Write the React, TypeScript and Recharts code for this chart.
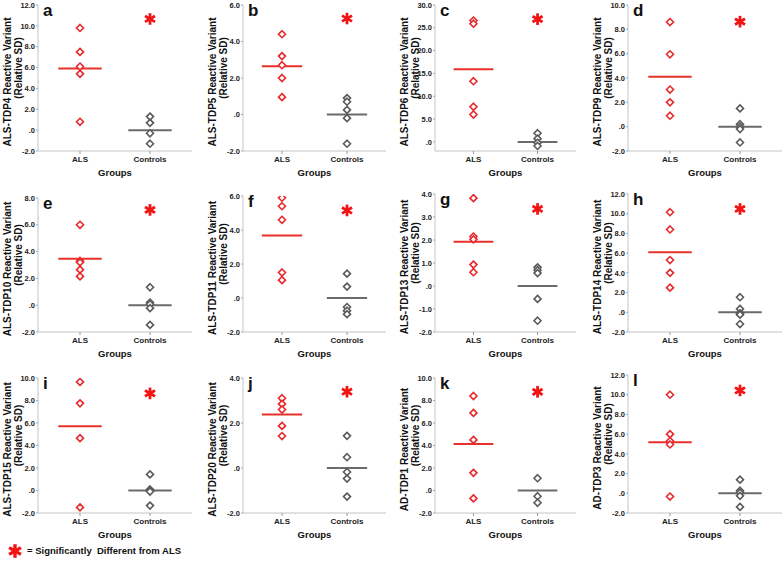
import React from "react";
import { ScatterChart, Scatter, XAxis, YAxis, ReferenceLine } from "recharts";

const GROUPS = ["ALS", "Controls"];
const LETTERS = ["a", "b", "c", "d", "e", "f", "g", "h", "i", "j", "k", "l"];
const VARIANTS = [
  "ALS-TDP4", "ALS-TDP5", "ALS-TDP6", "ALS-TDP9",
  "ALS-TDP10", "ALS-TDP11", "ALS-TDP13", "ALS-TDP14",
  "ALS-TDP15", "ALS-TDP20", "AD-TDP1", "AD-TDP3",
];

// values read per panel (relative SD)
const ALS_VALUES = [
  [9.8, 7.5, 6.1, 5.4, 0.8],
  [4.4, 3.2, 2.7, 2.0, 0.95],
  [26.6, 25.9, 13.3, 7.7, 6.0],
  [8.6, 5.95, 3.05, 2.0, 0.9],
  [6.0, 3.3, 3.2, 2.65, 2.15],
  [5.9, 5.4, 4.6, 1.5, 1.05],
  [3.82, 2.15, 2.03, 0.93, 0.6],
  [10.15, 8.4, 5.3, 4.0, 2.5],
  [9.65, 7.75, 4.65, -1.5],
  [3.1, 2.85, 2.6, 1.87, 1.42],
  [8.4, 6.9, 4.5, 1.57, -0.7],
  [10.0, 6.0, 5.3, 4.95, -0.33],
];
const CONTROL_VALUES = [
  [1.3, 0.7, -0.3, -1.3],
  [0.9, 0.7, 0.25, -0.2, -1.6],
  [1.9, 0.7, -0.2, -0.9],
  [1.5, 0.2, 0.0, -0.2, -1.3],
  [1.34, 0.2, 0.07, -0.22, -1.47],
  [1.43, 0.67, -0.53, -0.75, -0.95],
  [0.81, 0.69, 0.56, -0.56, -1.51],
  [1.53, 0.34, -0.1, -0.24, -1.19],
  [1.43, 0.09, 0.0, -0.09, -1.34],
  [1.43, 0.48, -0.18, -0.47, -1.27],
  [1.09, -0.51, -1.09],
  [1.38, 0.26, 0.07, -0.26, -1.38],
];
const ALS_MEANS = [5.9, 2.65, 15.9, 4.1, 3.47, 3.68, 1.92, 6.1, 5.71, 2.38, 4.14, 5.17];
const CONTROL_MEANS = [0, 0, 0, 0, 0, 0, 0, 0, 0, 0, 0, 0];
const STAR_Y = [10.66, 5.26, 26.9, 8.63, 7.11, 5.15, 3.35, 10.48, 8.63, 3.39, 8.77, 10.43];

const Y_TICKS = [
  [-2, 0, 2, 4, 6, 8, 10, 12],
  [-2, 0, 2, 4, 6],
  [0, 5, 10, 15, 20, 25, 30],
  [-2, 0, 2, 4, 6, 8, 10],
  [-2, 0, 2, 4, 6, 8],
  [-2, 0, 2, 4, 6],
  [-2, -1, 0, 1, 2, 3, 4],
  [-2, 0, 2, 4, 6, 8, 10, 12],
  [-2, 0, 2, 4, 6, 8, 10],
  [-2, 0, 2, 4],
  [-2, 0, 2, 4, 6, 8, 10],
  [-2, 0, 2, 4, 6, 8, 10, 12],
];
const Y_MAX = [12, 6, 30, 10, 8, 6, 4, 12, 10, 4, 10, 12];

// layout
const COL_AXIS_X = [38, 243, 435, 628];
const COL_PLOT_W = [154, 143, 141, 154];
const PLOT_TOP = [5, 5, 5, 5, 198, 196, 194, 194, 378, 378, 378, 375];
const ROW_BOTTOM = [151, 332, 513];
const Y_AXIS_W = 36;
const X_AXIS_H = 30;
const TOP_PAD = 5;

const RED = "#e8282a";
const STAR_RED = "#f21414";
const GRAY = "#5a5a5a";
const FONT = "'Liberation Sans', Arial, sans-serif";

const fmt = (v: number) => (v === 0 ? ".0" : v.toFixed(1));

const diamond = (color: string) => (props: any) => {
  const { cx, cy } = props;
  const r = 3.5;
  return (
    <path
      d={`M${cx},${cy - r}L${cx + r},${cy}L${cx},${cy + r}L${cx - r},${cy}Z`}
      fill="#fff"
      stroke={color}
      strokeWidth={1.6}
    />
  );
};

function StarMark({ cx, cy, r, w }: { cx: number; cy: number; r: number; w: number }) {
  const dx = r * Math.cos(Math.PI / 6);
  const dy = r * Math.sin(Math.PI / 6);
  return (
    <g stroke={STAR_RED} strokeWidth={w}>
      <line x1={cx} y1={cy - r} x2={cx} y2={cy + r} />
      <line x1={cx - dx} y1={cy - dy} x2={cx + dx} y2={cy + dy} />
      <line x1={cx - dx} y1={cy + dy} x2={cx + dx} y2={cy - dy} />
    </g>
  );
}

const starShape = (props: any) => <StarMark cx={props.cx} cy={props.cy} r={5.8} w={2.8} />;

function Panel({ index }: { index: number }) {
  const row = Math.floor(index / 4);
  const col = index % 4;
  const axisX = COL_AXIS_X[col];
  const plotW = COL_PLOT_W[col];
  const top = PLOT_TOP[index];
  const plotH = ROW_BOTTOM[row] - top;
  const width = Y_AXIS_W + plotW + 4;
  const height = TOP_PAD + plotH + X_AXIS_H;

  const alsData = ALS_VALUES[index].map((y) => ({ x: 1, y }));
  const ctrlData = CONTROL_VALUES[index].map((y) => ({ x: 2, y }));
  const starData = [{ x: 2, y: STAR_Y[index] }];
  const midY = TOP_PAD + plotH / 2;

  const yLabel = () => (
    <g fontFamily={FONT} fontWeight="bold" fill="#111">
      <text
        x={Y_AXIS_W - 31}
        y={midY + 4}
        fontSize={10}
        textAnchor="middle"
        dominantBaseline="central"
        transform={`rotate(-90, ${Y_AXIS_W - 31}, ${midY + 4})`}
      >
        {VARIANTS[index]} Reactive Variant
      </text>
      <text
        x={Y_AXIS_W - 20}
        y={midY - 10}
        fontSize={10}
        textAnchor="middle"
        dominantBaseline="central"
        transform={`rotate(-90, ${Y_AXIS_W - 20}, ${midY - 10})`}
      >
        (Relative SD)
      </text>
      <text x={Y_AXIS_W + 5} y={TOP_PAD + 11} fontSize={17}>
        {LETTERS[index]}
      </text>
    </g>
  );

  const xLabel = () => (
    <text
      x={Y_AXIS_W + plotW / 2}
      y={TOP_PAD + plotH + 25}
      textAnchor="middle"
      fontFamily={FONT}
      fontWeight="bold"
      fontSize={9.5}
      fill="#111"
    >
      Groups
    </text>
  );

  return (
    <div style={{ position: "absolute", left: axisX - Y_AXIS_W, top: top - TOP_PAD }}>
      <ScatterChart width={width} height={height} margin={{ top: TOP_PAD, right: 4, bottom: 0, left: 0 }}>
        <XAxis
          type="number"
          dataKey="x"
          domain={[0.4, 2.6]}
          ticks={[1, 2]}
          allowDataOverflow
          tickFormatter={(v: number) => GROUPS[v - 1]}
          height={X_AXIS_H}
          axisLine={{ stroke: "#c4c4c4" }}
          tickLine={{ stroke: "#999" }}
          tickSize={3}
          tickMargin={2}
          tick={{ fontSize: 8, fontWeight: "bold", fill: "#222", fontFamily: FONT }}
          label={{ content: xLabel }}
        />
        <YAxis
          type="number"
          dataKey="y"
          domain={[-2, Y_MAX[index]]}
          ticks={Y_TICKS[index]}
          allowDataOverflow
          tickFormatter={fmt}
          width={Y_AXIS_W}
          axisLine={{ stroke: "#c4c4c4" }}
          tickLine={{ stroke: "#aaa" }}
          tickSize={2}
          tickMargin={1}
          tick={{ fontSize: 7.5, fontWeight: "bold", fill: "#222", fontFamily: FONT }}
          label={{ content: yLabel }}
        />
        <ReferenceLine
          segment={[{ x: 0.69, y: ALS_MEANS[index] }, { x: 1.31, y: ALS_MEANS[index] }]}
          stroke="#e8302c"
          strokeWidth={2}
        />
        <ReferenceLine
          segment={[{ x: 1.69, y: CONTROL_MEANS[index] }, { x: 2.31, y: CONTROL_MEANS[index] }]}
          stroke="#6b6b6b"
          strokeWidth={2}
        />
        <Scatter data={alsData} shape={diamond(RED)} isAnimationActive={false} />
        <Scatter data={ctrlData} shape={diamond(GRAY)} isAnimationActive={false} />
        <Scatter data={starData} shape={starShape} isAnimationActive={false} />
      </ScatterChart>
    </div>
  );
}

export default function App() {
  return (
    <div
      style={{
        position: "absolute",
        left: 0,
        top: 0,
        width: 784,
        height: 565,
        background: "#fff",
        overflow: "hidden",
        fontFamily: FONT,
      }}
    >
      {LETTERS.map((_, i) => (
        <Panel key={i} index={i} />
      ))}
      <svg style={{ position: "absolute", left: 0, top: 540 }} width={26} height={24}>
        <StarMark cx={15} cy={11} r={6.8} w={3.4} />
      </svg>
      <div
        style={{
          position: "absolute",
          left: 27,
          top: 545,
          fontSize: 9.5,
          fontWeight: "bold",
          color: "#111",
          whiteSpace: "pre",
        }}
      >
        = Significantly  Different from ALS
      </div>
    </div>
  );
}
